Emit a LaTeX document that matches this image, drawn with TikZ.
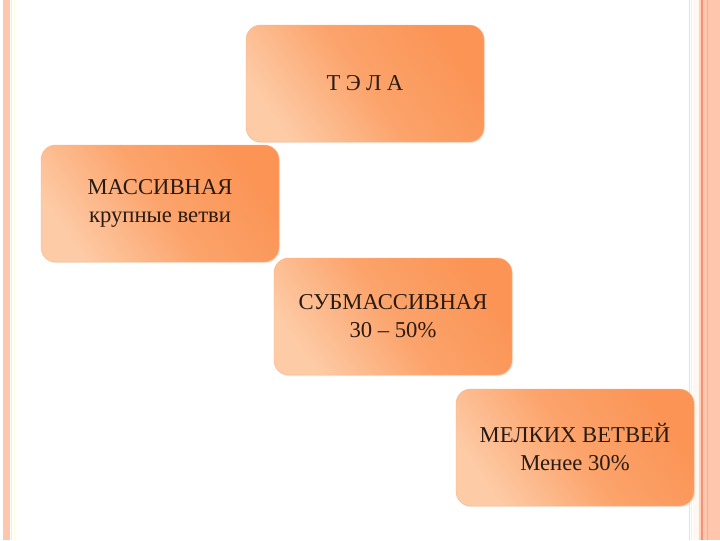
\documentclass[tikz,border=0pt]{standalone}
\usepackage{fontspec}
\setmainfont{Liberation Serif}
\usetikzlibrary{shadows}
\definecolor{boxlight}{HTML}{FDCBA6}
\definecolor{boxdark}{HTML}{FB9455}
\definecolor{stripe}{HTML}{FFC6AE}
\definecolor{stripedark}{HTML}{F29474}
\definecolor{txt}{HTML}{2A1A12}
\tikzset{
  box/.style={rounded corners=11pt, minimum width=178.5pt, minimum height=87.75pt,
    shading=axis, bottom color=boxlight, top color=boxdark, middle color=boxdark!72!boxlight, shading angle=-55,
    draw=boxdark!70!white, line width=0.3pt,
    drop shadow={shadow xshift=0.8pt, shadow yshift=-0.8pt, opacity=0.18, fill=brown},
    font=\fontsize{17}{21}\selectfont, text=txt, align=center, inner sep=0pt},
}
\begin{document}
\begin{tikzpicture}[x=0.75pt,y=-0.75pt]
\useasboundingbox (0,0) rectangle (720,540);
\fill[white] (0,0) rectangle (720,540);
% left frame stripes
\fill[stripe] (3,0) rectangle (9.5,540);
\draw[color=red!10!white, line width=0.6pt] (11.5,0) -- (11.5,540);
\draw[color=yellow!12!white, line width=0.6pt] (14.5,0) -- (14.5,540);
% right frame stripes
\draw[color=brown!25!white, line width=0.6pt] (689,0) -- (689,540);
\draw[color=orange!15!white, line width=0.6pt] (691.5,0) -- (691.5,540);
\fill[orange!6!white] (693,0) rectangle (698.5,540);
\fill[stripe!80!white] (698.5,0) rectangle (701,540);
\fill[stripedark] (701,0) rectangle (702.5,540);
\fill[stripe] (702.5,0) rectangle (720,540);
\draw[color=stripe!85!red, line width=0.5pt] (707,0) -- (707,540);
% boxes
\node[box] (tela) at (365,83.5) {Т\hspace{4pt}Э\hspace{4pt}Л\hspace{4pt}А};
\node[box] (mass) at (160,203.5) {МАССИВНАЯ\\крупные ветви};
\node[box] (sub) at (393,316.5) {СУБМАССИВНАЯ\\30 – 50\%};
\node[box] (mel) at (575,447.5) {МЕЛКИХ ВЕТВЕЙ\\Менее 30\%};
\end{tikzpicture}
\end{document}
